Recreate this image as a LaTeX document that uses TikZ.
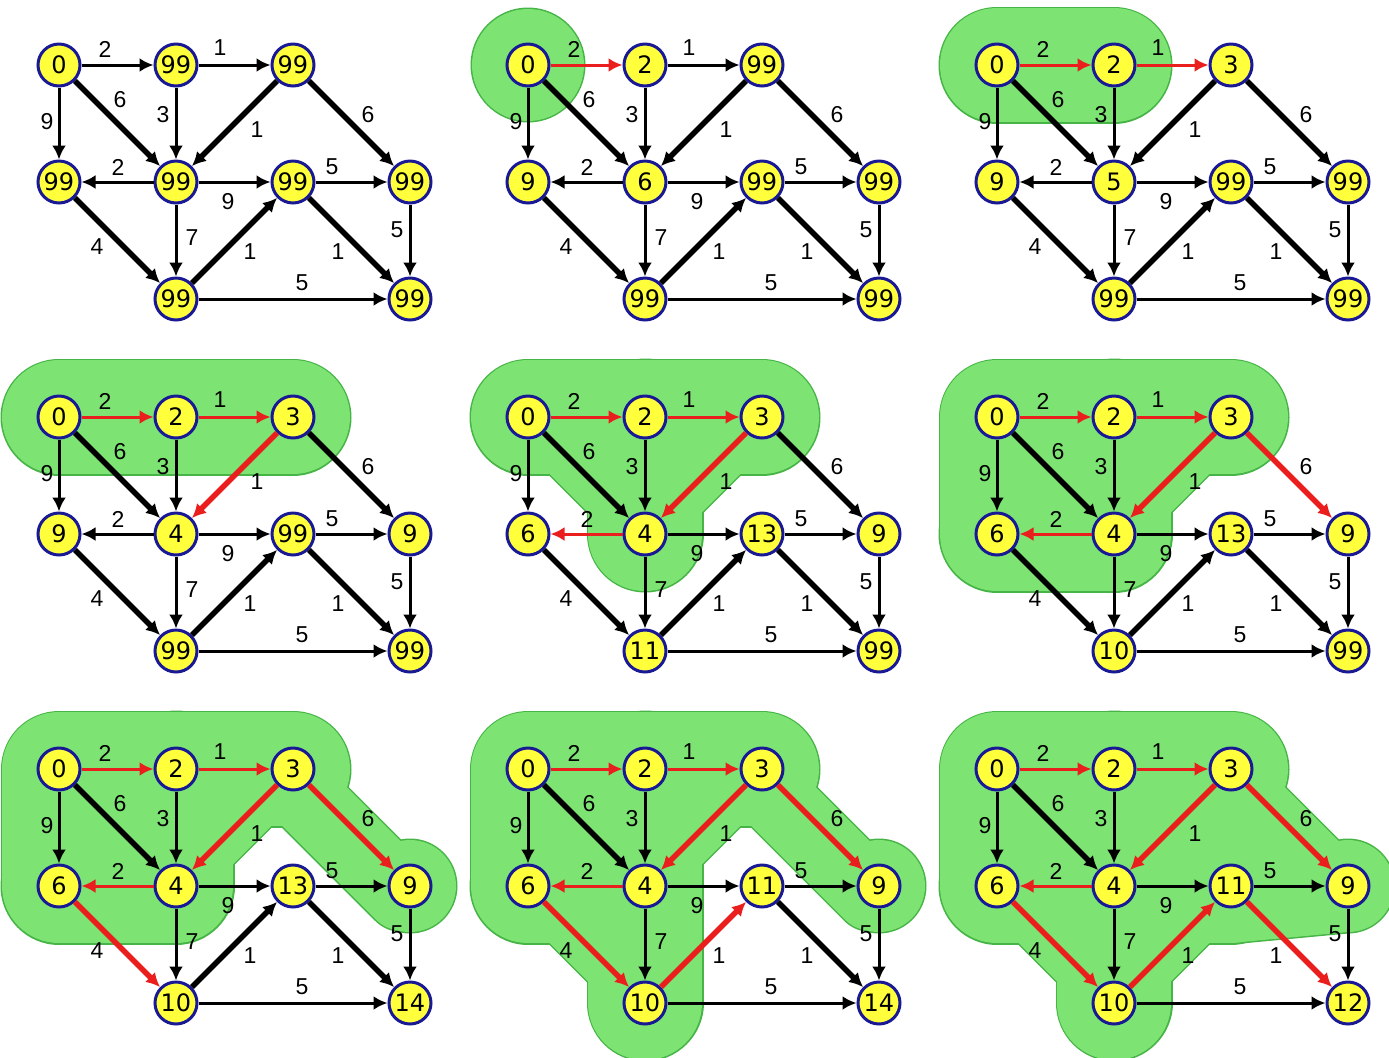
\documentclass[tikz,border=0pt]{standalone}
\usepackage{fontspec}
\setmainfont{Liberation Sans}
\newfontfamily\vertexfont{DejaVu Sans}
\usetikzlibrary{arrows.meta,backgrounds,calc}

\definecolor{vertexfill}{RGB}{255,255,60}
\definecolor{vertexline}{RGB}{25,25,150}
\definecolor{treered}{RGB}{235,30,30}
\definecolor{blobfill}{RGB}{125,228,115}
\definecolor{blobline}{RGB}{70,180,70}

\tikzset{
  vertex/.style={circle, draw=vertexline, line width=1.5pt, fill=vertexfill,
    minimum size=21pt, inner sep=0pt, font=\vertexfont\fontsize{12}{12}\selectfont},
  cost/.style={inner sep=0pt, font=\fontsize{11.5}{11.5}\selectfont},
  arrowline/.style={draw=black, -{Latex[length=7pt,width=7pt]}},
  slim/.style={line width=1.5pt},
  fat/.style={line width=2.75pt},
  tree/.style={draw=treered},
  % no edge is in the tree unless a step says so
  esa/.style={}, eab/.style={}, esc/.style={}, esd/.style={},
  ead/.style={}, ebd/.style={}, ebf/.style={}, edc/.style={},
  ede/.style={}, eef/.style={}, edg/.style={}, ecg/.style={},
  ege/.style={}, eeh/.style={}, efh/.style={}, egh/.style={}
}

% from/to/weight/label x/label y/width
\newcommand\edgelist{s/a/2/105/49/slim, a/b/1/220/48/slim, s/c/9/47/122/slim,
  s/d/6/120/100/fat, a/d/3/163/115/slim, b/d/1/257/130/fat, b/f/6/368/115/fat,
  d/c/2/118/167/slim, d/e/9/228/202/slim, e/f/5/332/167/slim, d/g/7/192/238/slim,
  c/g/4/97/247/fat, g/e/1/250/252/fat, e/h/1/338/252/fat, f/h/5/397/230/slim,
  g/h/5/302/283/slim}

% #1 prefix, #2 distances of s,a,b,c,d,e,f,g,h
\newcommand\drawgraph[2]{%
  \foreach \n/\x/\y [count=\i from 0] in {s/59/65, a/176/65, b/293/65,
      c/59/182, d/176/182, e/293/182, f/410/182, g/176/299, h/410/299} {
    \pgfmathtruncatemacro\dist{{#2}[\i]}
    \node[vertex] (#1\n) at (\x,\y) {\dist};
  }
  \foreach \from/\to/\cst/\lx/\ly/\lwd in \edgelist {
    \draw[arrowline, \lwd, e\from\to] (#1\from) -- (#1\to);
    \node[cost] (#1\from\to) at (\lx,\ly) {\cst};
  }
}

% visited set: outline pass, then fill pass
\newcommand\blob[1]{%
  \begin{pgfonlayer}{background}
    \begin{scope}[line cap=round, line join=round,
        band/.style={draw=blobline, line width=58.5pt},
        arm/.style={draw=blobline, line width=38pt},
        fillet/.style={draw=blobline, line width=26.5pt},
        disk/.style={draw=blobline, fill=blobline, line width=1.5pt},
        area/.style={draw=blobline, fill=blobline, line width=1.5pt}]
      #1
    \end{scope}
    \begin{scope}[line cap=round, line join=round,
        band/.style={draw=blobfill, line width=57pt},
        arm/.style={draw=blobfill, line width=36.5pt},
        fillet/.style={draw=blobfill, line width=25pt},
        disk/.style={fill=blobfill},
        area/.style={fill=blobfill}]
      #1
    \end{scope}
  \end{pgfonlayer}}

% arm from b to f, set a little towards the lower left
\newcommand\armbf[1]{\path[arm] ($(#1b.center)+(-8,8)$) -- ($(#1f.center)+(-8,8)$);
  \path[disk] (#1f.center) circle[radius=23pt];}

\begin{document}
\begin{tikzpicture}[x=0.5pt, y=-0.5pt]
  \useasboundingbox (0,0) rectangle (1389,1057);

  % step 1
  \drawgraph{p1}{0,99,99,99,99,99,99,99,99}

  % step 2
  \begin{scope}[shift={(469,0)}, esa/.style=tree]
    \drawgraph{p2}{0,2,99,9,6,99,99,99,99}
  \end{scope}
  \blob{\path[disk] (p2s.center) circle[radius=28pt];}

  % step 3
  \begin{scope}[shift={(938,0)}, esa/.style=tree, eab/.style=tree]
    \drawgraph{p3}{0,2,3,9,5,99,99,99,99}
  \end{scope}
  \blob{\path[band] (p3s.center) -- (p3a.center);}

  % step 4
  \begin{scope}[shift={(0,352)}, esa/.style=tree, eab/.style=tree, ebd/.style=tree]
    \drawgraph{p4}{0,2,3,9,4,99,9,99,99}
  \end{scope}
  \blob{\path[band] (p4s.center) -- (p4a.center) -- (p4b.center);}

  % step 5
  \begin{scope}[shift={(469,352)}, esa/.style=tree, eab/.style=tree, ebd/.style=tree,
      edc/.style=tree]
    \drawgraph{p5}{0,2,3,6,4,13,9,11,99}
  \end{scope}
  \blob{\path[band] (p5s.center) -- (p5a.center) -- (p5b.center)
      (p5a.center) -- (p5d.center);
    \path[fillet] (p5s.center) -- (p5d.center) -- (p5b.center);}

  % step 6
  \begin{scope}[shift={(938,352)}, esa/.style=tree, eab/.style=tree, ebd/.style=tree,
      edc/.style=tree, ebf/.style=tree]
    \drawgraph{p6}{0,2,3,6,4,13,9,10,99}
  \end{scope}
  \blob{\path[area] (p6s.center) -- (p6a.center) -- (p6d.center) -- (p6c.center) -- cycle;
    \path[band] (p6c.center) -- (p6s.center) -- (p6a.center) -- (p6b.center)
      (p6a.center) -- (p6d.center) -- (p6c.center);
    \path[fillet] (p6b.center) -- (p6d.center);}

  % step 7
  \begin{scope}[shift={(0,704)}, esa/.style=tree, eab/.style=tree, ebd/.style=tree,
      edc/.style=tree, ebf/.style=tree, ecg/.style=tree]
    \drawgraph{p7}{0,2,3,6,4,13,9,10,14}
  \end{scope}
  \blob{\path[area] (p7s.center) -- (p7a.center) -- (p7d.center) -- (p7c.center) -- cycle;
    \path[band] (p7c.center) -- (p7s.center) -- (p7a.center) -- (p7b.center)
      (p7a.center) -- (p7d.center) -- (p7c.center);
    \path[fillet] (p7b.center) -- (p7d.center);
    \armbf{p7}}

  % step 8
  \begin{scope}[shift={(469,704)}, esa/.style=tree, eab/.style=tree, ebd/.style=tree,
      edc/.style=tree, ebf/.style=tree, ecg/.style=tree, ege/.style=tree]
    \drawgraph{p8}{0,2,3,6,4,11,9,10,14}
  \end{scope}
  \blob{\path[area] (p8s.center) -- (p8a.center) -- (p8d.center) -- (p8c.center) -- cycle;
    \path[band] (p8c.center) -- (p8s.center) -- (p8a.center) -- (p8b.center)
      (p8a.center) -- (p8d.center) -- (p8c.center) (p8d.center) -- (p8g.center);
    \path[fillet] (p8b.center) -- (p8d.center) (p8c.center) -- (p8g.center);
    \armbf{p8}}

  % step 9
  \begin{scope}[shift={(938,704)}, esa/.style=tree, eab/.style=tree, ebd/.style=tree,
      edc/.style=tree, ebf/.style=tree, ecg/.style=tree, ege/.style=tree, eeh/.style=tree]
    \drawgraph{p9}{0,2,3,6,4,11,9,10,12}
  \end{scope}
  \blob{\path[area] (p9s.center) -- (p9a.center) -- (p9d.center) -- (p9c.center) -- cycle;
    \path[area] (p9b.center) -- (p9d.center) -- (p9e.center) -- cycle;
    \path[area] (p9e.center) -- ($(p9e.center)+(0,57)$) -- ($(p9f.center)+(0,46)$)
      -- (p9f.center) -- cycle;
    \path[band] (p9c.center) -- (p9s.center) -- (p9a.center) -- (p9b.center)
      (p9a.center) -- (p9d.center) -- (p9c.center) (p9d.center) -- (p9g.center)
      (p9d.center) -- (p9e.center);
    \path[fillet] (p9b.center) -- (p9d.center) (p9c.center) -- (p9g.center)
      (p9g.center) -- (p9e.center) (p9b.center) -- (p9e.center);
    \path[arm] (p9e.center) -- (p9f.center);
    \armbf{p9}}

\end{tikzpicture}
\end{document}
